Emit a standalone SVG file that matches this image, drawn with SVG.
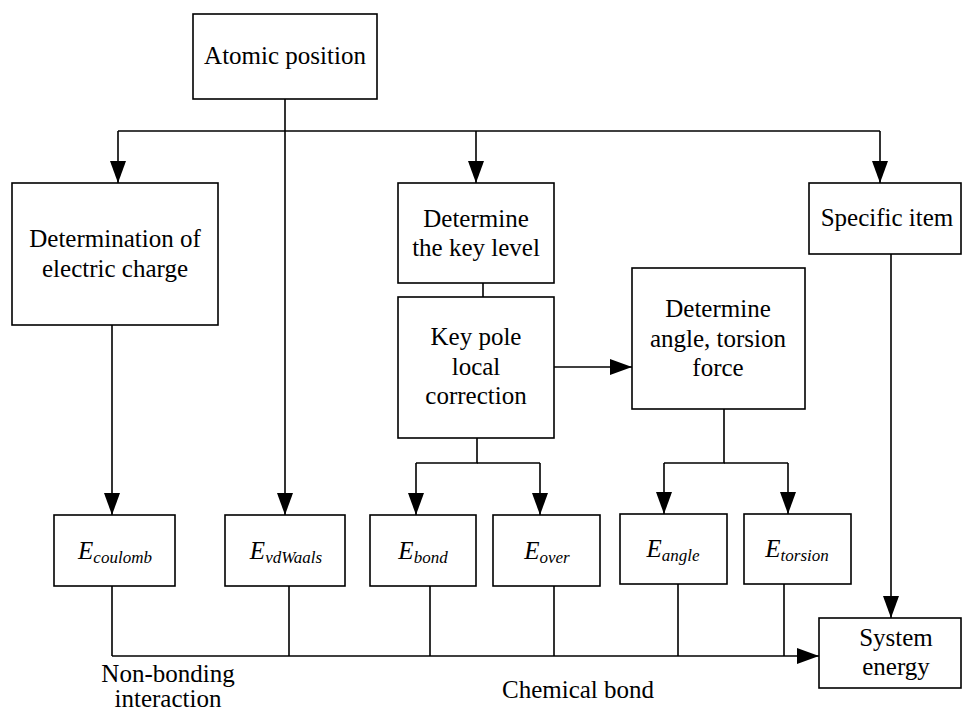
<svg xmlns="http://www.w3.org/2000/svg" width="963" height="714" viewBox="0 0 963 714">
<style>
.box{fill:#fff;stroke:#000;stroke-width:1.6}
.t{font-family:"Liberation Serif","Times New Roman",serif;font-size:25px;fill:#000;text-anchor:middle}
.e{font-family:"Liberation Serif","Times New Roman",serif;font-size:25px;font-style:italic;fill:#000;text-anchor:middle}
.s{font-size:17px}
.c{fill:none;stroke:#000;stroke-width:1.6}
</style>
<defs>
<marker id="ah" markerUnits="userSpaceOnUse" markerWidth="22" markerHeight="16" refX="22" refY="8" orient="auto">
<path d="M0,0 L22,8 L0,16 z" fill="#000"/>
</marker>
</defs>
<rect width="963" height="714" fill="#fff"/>
<g id="connectors">
<line class="c" x1="285" y1="99" x2="285" y2="515" marker-end="url(#ah)"/>
<path class="c" d="M118,131 H880"/>
<line class="c" x1="118" y1="131" x2="118" y2="183" marker-end="url(#ah)"/>
<line class="c" x1="476" y1="131" x2="476" y2="183" marker-end="url(#ah)"/>
<line class="c" x1="880" y1="131" x2="880" y2="183" marker-end="url(#ah)"/>
<line class="c" x1="483" y1="283" x2="483" y2="297"/>
<line class="c" x1="554" y1="367" x2="632" y2="367" marker-end="url(#ah)"/>
<line class="c" x1="112" y1="325" x2="112" y2="515" marker-end="url(#ah)"/>
<path class="c" d="M477,438 V463 H416"/>
<line class="c" x1="416" y1="463" x2="416" y2="515" marker-end="url(#ah)"/>
<path class="c" d="M477,463 H540"/>
<line class="c" x1="540" y1="463" x2="540" y2="515" marker-end="url(#ah)"/>
<path class="c" d="M724,409 V463 H664"/>
<line class="c" x1="664" y1="463" x2="664" y2="514" marker-end="url(#ah)"/>
<path class="c" d="M724,463 H788"/>
<line class="c" x1="788" y1="463" x2="788" y2="514" marker-end="url(#ah)"/>
<line class="c" x1="891" y1="254" x2="891" y2="618" marker-end="url(#ah)"/>
<path class="c" d="M112,586 V656 M289,586 V656 M430,586 V656 M554,586 V656 M678,584 V656 M784,584 V656"/>
<line class="c" x1="112" y1="656" x2="819" y2="656" marker-end="url(#ah)"/>
</g>
<g id="atomic-position">
<rect class="box" x="193" y="14" width="184" height="85"/>
<text class="t" x="285" y="64">Atomic position</text>
</g>
<g id="determination-charge">
<rect class="box" x="12" y="183" width="206" height="142"/>
<text class="t" x="115" y="247">Determination of</text>
<text class="t" x="115" y="277">electric charge</text>
</g>
<g id="determine-key-level">
<rect class="box" x="398" y="183" width="156" height="100"/>
<text class="t" x="476" y="227">Determine</text>
<text class="t" x="476" y="256">the key level</text>
</g>
<g id="key-pole">
<rect class="box" x="398" y="297" width="156" height="141"/>
<text class="t" x="476" y="345">Key pole</text>
<text class="t" x="476" y="375">local</text>
<text class="t" x="476" y="404">correction</text>
</g>
<g id="determine-angle">
<rect class="box" x="632" y="268" width="173" height="141"/>
<text class="t" x="718" y="317">Determine</text>
<text class="t" x="718" y="347">angle, torsion</text>
<text class="t" x="718" y="376">force</text>
</g>
<g id="specific-item">
<rect class="box" x="809" y="183" width="152" height="71"/>
<text class="t" x="887" y="226">Specific item</text>
</g>
<g id="system-energy">
<rect class="box" x="819" y="618" width="142" height="70"/>
<text class="t" x="896" y="646">System</text>
<text class="t" x="896" y="675">energy</text>
</g>
<g id="e-coulomb">
<rect class="box" x="54" y="515" width="121" height="71"/>
<text class="e" x="115" y="559">E<tspan class="s" dy="4">coulomb</tspan></text>
</g>
<g id="e-vdwaals">
<rect class="box" x="225" y="515" width="120" height="71"/>
<text class="e" x="286" y="559">E<tspan class="s" dy="4">vdWaals</tspan></text>
</g>
<g id="e-bond">
<rect class="box" x="370" y="515" width="106" height="71"/>
<text class="e" x="423" y="559">E<tspan class="s" dy="4">bond</tspan></text>
</g>
<g id="e-over">
<rect class="box" x="493" y="515" width="107" height="71"/>
<text class="e" x="547" y="559">E<tspan class="s" dy="4">over</tspan></text>
</g>
<g id="e-angle">
<rect class="box" x="620" y="514" width="107" height="70"/>
<text class="e" x="673" y="557">E<tspan class="s" dy="4">angle</tspan></text>
</g>
<g id="e-torsion">
<rect class="box" x="744" y="514" width="107" height="70"/>
<text class="e" x="797" y="557">E<tspan class="s" dy="4">torsion</tspan></text>
</g>
<g id="labels">
<text class="t" x="168" y="682">Non-bonding</text>
<text class="t" x="168" y="707">interaction</text>
<text class="t" x="578" y="698">Chemical bond</text>
</g>
</svg>
